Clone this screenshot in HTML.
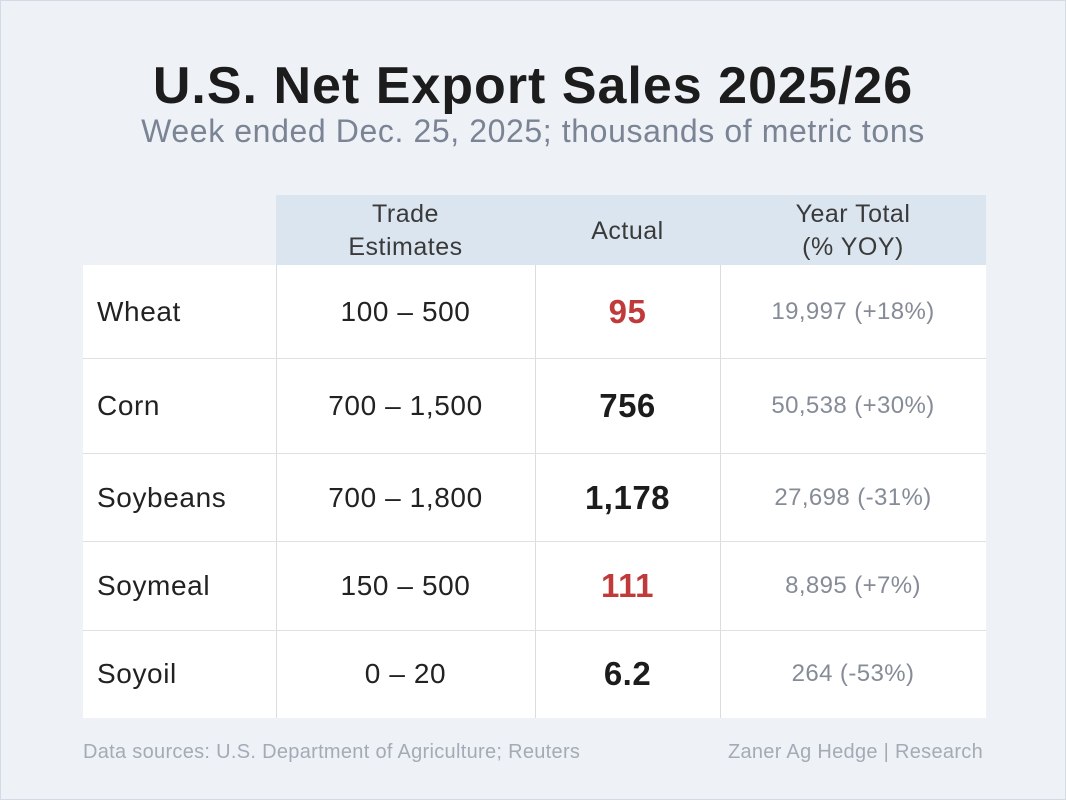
<!DOCTYPE html>
<html><head><meta charset="utf-8"><style>
*{margin:0;padding:0;box-sizing:border-box}
body{width:1066px;height:800px;background:#eef2f7;font-family:"Liberation Sans",sans-serif;position:relative;overflow:hidden}
.bd{position:absolute;left:0;top:0;width:1066px;height:800px;border:1px solid #d3dbe6}
.a{position:absolute;white-space:nowrap}
.title{left:0;width:1066px;top:56px;font-size:52px;font-weight:bold;color:#1c1c1c;text-align:center;letter-spacing:1px}
.sub{left:0;width:1066px;top:113px;font-size:32px;color:#7b8494;text-align:center;letter-spacing:0.6px}
.hdr{left:276px;top:195px;width:710px;height:70px;background:#dbe5ef}
.tbl{left:83px;top:265px;width:903px;height:453px;background:#fff}
.h{font-size:25px;color:#3a3a3a;line-height:33px;text-align:center;letter-spacing:0.5px}
.vl{position:absolute;width:1px;background:#dcdcdc;top:265px;height:453px}
.hl{position:absolute;height:1px;background:#e0e0e0;left:83px;width:903px}
.lab{font-size:28px;color:#222;left:97px;letter-spacing:0.6px}
.est{font-size:28px;color:#222;left:276px;width:259px;text-align:center;letter-spacing:0.6px}
.act{font-size:33px;font-weight:bold;color:#1c1c1c;left:535px;width:185px;text-align:center;letter-spacing:0.5px}
.red{color:#c0393b}
.yr{font-size:24px;color:#858c97;left:720px;width:266px;text-align:center;letter-spacing:0.4px}
.foot{top:741px;font-size:20px;color:#a3abb6;letter-spacing:0.3px}
</style></head><body>
<div class="bd"></div>
<div class="a title">U.S. Net Export Sales 2025/26</div>
<div class="a sub">Week ended Dec. 25, 2025; thousands of metric tons</div>
<div class="a hdr"></div>
<div class="a tbl"></div>
<div class="a h" style="left:276px;width:259px;top:198px">Trade<br>Estimates</div>
<div class="a h" style="left:535px;width:185px;top:215px">Actual</div>
<div class="a h" style="left:720px;width:266px;top:198px">Year Total<br>(% YOY)</div>
<div class="vl" style="left:276px"></div>
<div class="vl" style="left:535px"></div>
<div class="vl" style="left:720px"></div>
<div class="hl" style="top:358px"></div>
<div class="hl" style="top:453px"></div>
<div class="hl" style="top:541px"></div>
<div class="hl" style="top:630px"></div>

<div class="a lab" style="top:296px">Wheat</div>
<div class="a est" style="top:296px">100 – 500</div>
<div class="a act red" style="top:293px">95</div>
<div class="a yr" style="top:298px">19,997 (+18%)</div>

<div class="a lab" style="top:390px">Corn</div>
<div class="a est" style="top:390px">700 – 1,500</div>
<div class="a act" style="top:387px">756</div>
<div class="a yr" style="top:392px">50,538 (+30%)</div>

<div class="a lab" style="top:482px">Soybeans</div>
<div class="a est" style="top:482px">700 – 1,800</div>
<div class="a act" style="top:479px">1,178</div>
<div class="a yr" style="top:484px">27,698 (-31%)</div>

<div class="a lab" style="top:570px">Soymeal</div>
<div class="a est" style="top:570px">150 – 500</div>
<div class="a act red" style="top:567px">111</div>
<div class="a yr" style="top:572px">8,895 (+7%)</div>

<div class="a lab" style="top:658px">Soyoil</div>
<div class="a est" style="top:658px">0 – 20</div>
<div class="a act" style="top:655px">6.2</div>
<div class="a yr" style="top:660px">264 (-53%)</div>

<div class="a foot" style="left:83px">Data sources: U.S. Department of Agriculture; Reuters</div>
<div class="a foot" style="right:83px">Zaner Ag Hedge | Research</div>
</body></html>
